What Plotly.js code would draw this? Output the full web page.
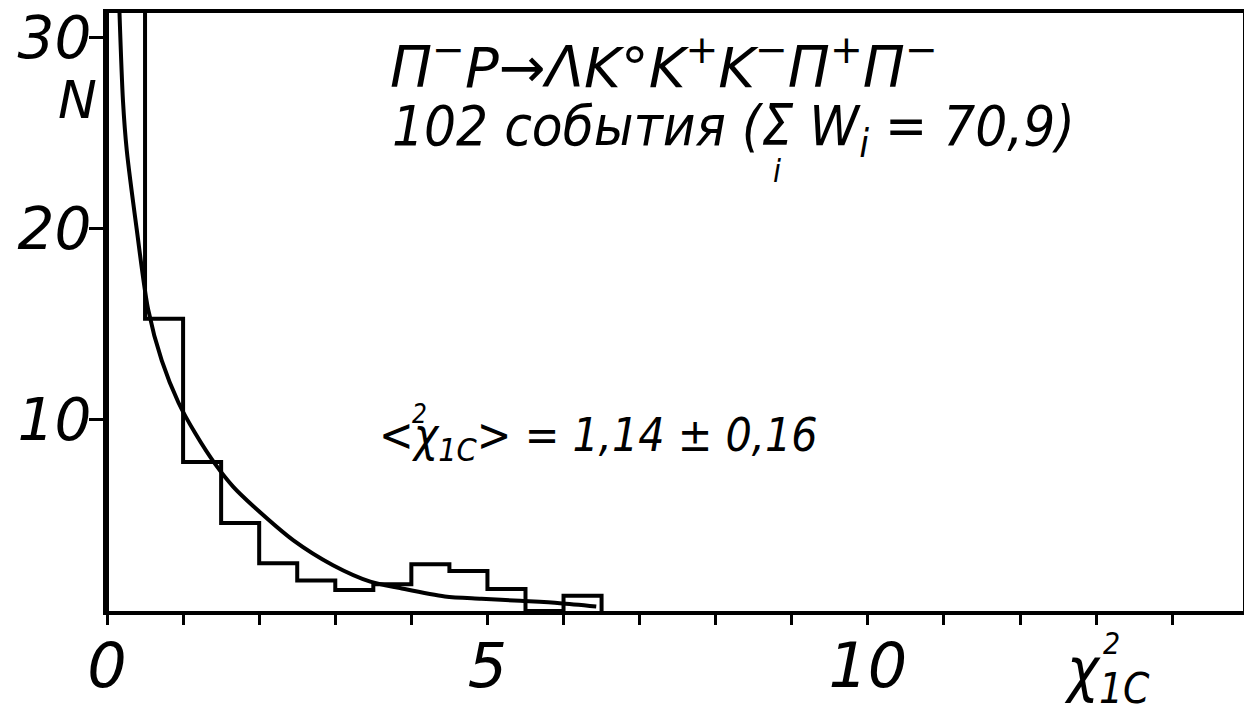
<!DOCTYPE html>
<html>
<head>
<meta charset="utf-8">
<script src="https://cdn.plot.ly/plotly-3.0.1.min.js"></script>
<style>
  html, body { margin: 0; padding: 0; background: #ffffff; }
  #chart { width: 1244px; height: 714px; }
</style>
</head>
<body>
<div id="chart"></div>
<script>
// ---- data ----
// histogram of chi^2_1C (bin edges and weighted counts)
const binEdges  = [0, 0.5, 1.0, 1.5, 2.0, 2.5, 3.0, 3.5, 4.0, 4.5, 5.0, 5.5, 6.0, 6.5];
const binCounts = [34, 15.3, 7.8, 4.6, 2.5, 1.6, 1.1, 1.4, 2.45, 2.1, 1.15, 0, 0.8];

// smooth expected curve
const curveX = [0.15, 0.21, 0.26, 0.39, 0.54, 0.72, 0.94, 1.16, 1.42, 1.66, 1.92, 2.45, 2.97, 3.46, 3.85, 4.44, 4.92, 5.43, 5.95, 6.43];
const curveN = [33, 26.7, 24.1, 20.0, 15.8, 13.1, 10.9, 9.3, 7.7, 6.5, 5.5, 3.7, 2.4, 1.54, 1.2, 0.76, 0.64, 0.53, 0.41, 0.24];

// axis ticks
const xTickVals = [0, 1, 2, 3, 4, 5, 6, 7, 8, 9, 10, 11, 12, 13, 14];
const xTickText = ['0', '', '', '', '', '5', '', '', '', '', '10', '', '', '', ''];
const yTickVals = [10, 20, 30];
const yTickText = ['10', '20', '30'];

// texts
const reactionText = 'Π<sup>−</sup>P→ΛK°K<sup>+</sup>K<sup>−</sup>Π<sup>+</sup>Π<sup>−</sup>';
const eventsText   = '102 события (Σ W<sub>i</sub> = 70,9)';
const meanText     = '&lt;χ<sub>1C</sub>&gt; = 1,14 ± 0,16';

// ---- build step outline from the histogram arrays ----
const stepX = [binEdges[0]].concat(binEdges);
const stepY = [0].concat(binCounts).concat([0]);

const FONT = 'DejaVu Sans, Liberation Sans, sans-serif';
const NARROW = 'DejaVu Sans Condensed, DejaVu Sans, sans-serif';
const ink = '#000000';

const traces = [
  {
    type: 'scatter', mode: 'lines',
    x: stepX, y: stepY,
    line: { shape: 'hv', color: ink, width: 4 },
    hoverinfo: 'skip', showlegend: false
  },
  {
    type: 'scatter', mode: 'lines',
    x: curveX, y: curveN,
    line: { shape: 'spline', smoothing: 0.8, color: ink, width: 4 },
    hoverinfo: 'skip', showlegend: false
  }
];

// annotations placed in paper coordinates (plot area = 0..1)
function ann(text, x, y, size, family, xanchor, yanchor) {
  return {
    text: text, x: x, y: y, xref: 'paper', yref: 'paper',
    showarrow: false, xanchor: xanchor || 'left', yanchor: yanchor || 'middle',
    font: { family: family || FONT, size: size, color: ink, style: 'italic' }
  };
}

const layout = {
  width: 1244, height: 714,
  paper_bgcolor: '#ffffff', plot_bgcolor: '#ffffff',
  margin: { l: 107, r: 1, t: 13, b: 103 },
  showlegend: false,
  xaxis: {
    range: [0, 14.93],
    tickvals: xTickVals, ticktext: xTickText,
    ticks: 'outside', ticklen: 10, tickwidth: 3, tickcolor: ink,
    ticklabelstandoff: -12,
    showline: true, linewidth: 4, linecolor: ink, mirror: true,
    showgrid: false, zeroline: false,
    tickfont: { family: FONT, size: 62, color: ink, style: 'italic' }
  },
  yaxis: {
    range: [0, 31.3],
    tickvals: yTickVals, ticktext: yTickText,
    ticks: 'outside', ticklen: 14, tickwidth: 3, tickcolor: ink,
    ticklabelstandoff: -14,
    showline: true, linewidth: 4, linecolor: ink, mirror: true,
    showgrid: false, zeroline: false,
    tickfont: { family: FONT, size: 58, color: ink, style: 'italic' }
  },
  annotations: [
    ann(reactionText, 0.247, 0.915, 56),
    ann(eventsText, 0.249, 0.805, 56, NARROW),
    ann('i', 0.49, 0.735, 32, NARROW, 'center'),
    ann(meanText, 0.238, 0.288, 46, NARROW),
    ann('2', 0.275, 0.33, 26, NARROW, 'center'),
    ann('N', -0.026, 0.855, 52, FONT, 'center'),
    ann('χ<sub>1C</sub>', 0.88, -0.105, 60, NARROW, 'center'),
    ann('2', 0.884, -0.055, 30, NARROW, 'center')
  ]
};

Plotly.newPlot('chart', traces, layout, { staticPlot: true, displayModeBar: false }).then(function () {
  // put the sub-index "i" under the Σ sign of the events line
  var texts = document.querySelectorAll('.annotation-text');
  var evt = null, iAnn = null;
  texts.forEach(function (t) {
    if (t.textContent.indexOf('события') >= 0) evt = t;
  });
  if (evt) {
    var range = null;
    // find Σ position inside the events text via tspans / character extents
    var full = evt.textContent;
    var idx = full.indexOf('Σ');
    try {
      var ext = evt.getExtentOfChar(idx);
      var svgRect = document.querySelector('.main-svg').getBoundingClientRect();
      var m = evt.getScreenCTM();
      var cx = (ext.x + ext.width / 2) * m.a + m.e - svgRect.left;
      var frac = (cx - 107) / 1136;
      Plotly.relayout('chart', { 'annotations[2].x': frac });
    } catch (e) {}
  }
});
</script>
</body>
</html>
